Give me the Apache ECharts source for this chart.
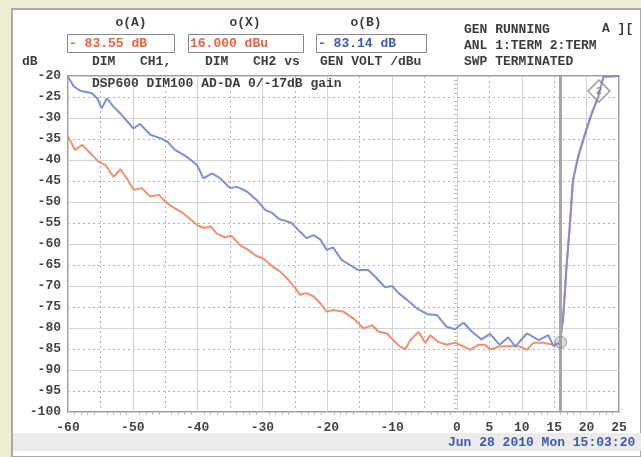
<!DOCTYPE html>
<html><head><meta charset="utf-8">
<script src="https://cdn.jsdelivr.net/npm/echarts@6/dist/echarts.min.js"></script>
<style>html,body{margin:0;padding:0;background:#EEEDD3}#c{width:641px;height:457px}</style>
</head><body><div id="c"></div>
<script>
// X-axis ticks (dBu) and tick labels
const xTickLabels = [-60, -50, -40, -30, -20, -10, 0, 5, 10, 15, 20, 25];
const yTickLabels = [-20, -25, -30, -35, -40, -45, -50, -55, -60, -65, -70, -75, -80, -85, -90, -95, -100];

// CH1 (blue)
const blueX = [-60, -59.1, -58.1, -56.3, -55.5, -54.8, -54, -53, -51.7, -49.9, -48.9, -47.3, -45.8, -44.7, -43.5, -41.7, -40.1, -39.1, -37.8, -36.5, -35, -33.9, -32.4, -30.9, -29.6, -28.5, -27.5, -26.5, -25.5, -24.2, -23.2, -22.1, -21.1, -20.1, -19.1, -17.8, -16.5, -15.2, -13.7, -12.6, -11.1, -10, -9, -7.7, -6.2, -4.6, -3.1, -1.6, -0.3, 1, 2.3, 3.8, 5.1, 6.6, 7.9, 9, 10.8, 12.6, 14.1, 14.9, 15.9, 16.4, 16.9, 17.4, 17.9, 18.7, 19.8, 20.8, 21.8, 22.6, 25];
const blueY = [-20.2, -22.5, -23.5, -24.1, -25.3, -27.7, -25.3, -27.3, -29.3, -32.5, -31.4, -34, -34.8, -35.6, -37.6, -39.2, -41.2, -44.4, -43.2, -44.4, -46.7, -46.4, -47.5, -49.5, -51.9, -52.6, -54.0, -54.5, -55.0, -57.1, -58.6, -57.9, -58.9, -61.4, -60.8, -63.8, -65, -66.2, -66.2, -67.8, -70.3, -70, -71.7, -73.3, -75.3, -76.7, -76.9, -79.7, -80.3, -78.7, -80.9, -82.7, -81.4, -84, -82.2, -84.4, -81.3, -82.9, -81.7, -84.3, -83.4, -77.3, -65.4, -55.9, -44.8, -39.2, -33.6, -28.9, -24.9, -20.2, -20];

// CH2 (orange)
const orangeX = [-60, -58.9, -57.8, -56.3, -55.3, -54.2, -53, -51.9, -50.9, -49.9, -48.6, -47.3, -46, -44.7, -43.5, -42.3, -41.2, -40, -39, -38, -37, -35.8, -34.8, -33.5, -32.2, -31, -29.8, -28.6, -27.4, -26.2, -25, -24.2, -23.2, -22.1, -21.1, -20.1, -19.1, -17.5, -16, -14.4, -13.1, -12.1, -10.8, -9.8, -8.8, -8, -7.2, -5.9, -4.9, -4.1, -2.9, -1.6, -0.3, 1, 2, 3.3, 4.3, 5.1, 6.6, 8.2, 9.7, 10.8, 11.8, 13.3, 14.9, 15.9, 16.4, 16.9, 17.4, 17.9, 18.7, 19.8, 20.8, 21.8, 22.6, 25];
const orangeY = [-34.4, -37.6, -36.4, -38.8, -40.4, -41.2, -44, -42.2, -44.4, -47.1, -46.7, -48.7, -48.3, -50.3, -51.5, -52.6, -54, -55.6, -56.2, -55.8, -57.6, -58.4, -58.0, -60.2, -61.4, -62.8, -63.5, -65.2, -66.4, -68.2, -70.4, -72.1, -71.7, -72.5, -74.1, -76.1, -75.7, -76.1, -77.7, -80.1, -79.3, -80.9, -81.3, -82.9, -84.4, -85.1, -82.9, -80.9, -83.6, -81.7, -83.3, -84, -83.5, -84.4, -85.2, -84, -84, -85.1, -84.4, -84.3, -84.4, -85.2, -83.5, -83.5, -84, -83.6, -77.3, -65.4, -55.9, -44.8, -39.2, -33.6, -28.9, -24.9, -20.2, -20];

// cursors
const cursor1 = [16, -83.4];
const cursor2 = [21.9, -23.6];

const chart = echarts.init(document.getElementById('c'));
const F = "'Liberation Mono', 'DejaVu Sans Mono', monospace";
const txt = (x, y, s, color, align) => ({
  type: 'text', left: undefined, x: x, y: y, z: 10,
  style: { text: s, x: 0, y: 0, fill: color || '#3c3c3c', font: 'bold 13px ' + F, textAlign: align || 'left', textVerticalAlign: 'middle' }
});
const box = (x1, x2, color, s) => ([
  { type: 'rect', z: 5, shape: { x: x1 + 0.5, y: 34.5, width: x2 - x1, height: 18 }, style: { fill: '#fff', stroke: '#8a8a8a', lineWidth: 1 } },
  { type: 'text', z: 10, x: x1 + 2, y: 44, style: { text: s, fill: color, font: 'bold 13px ' + F, textVerticalAlign: 'middle' } }
]);
const pairs = (xs, ys) => xs.map((v, i) => [v, ys[i]]);

chart.setOption({
  backgroundColor: '#EEEDD3',
  animation: false,
  grid: { left: 68, right: 22, top: 76, bottom: 45, show: true, borderColor: '#9c9c9c', borderWidth: 2, backgroundColor: '#fff' },
  xAxis: [
    { type: 'value', min: -60, max: 25, interval: 5,
      axisLine: { show: false }, axisTick: { show: false },
      minorTick: { show: true, splitNumber: 5, length: 3, lineStyle: { color: '#bbb' } },
      axisLabel: { margin: 9, color: '#444', fontFamily: F, fontWeight: 'bold', fontSize: 13,
        formatter: v => (v < 0 && v % 10 !== 0) ? '' : String(v) },
      splitLine: { show: true, lineStyle: { color: '#b4b4b4', type: [2, 3], width: 1 } } },
    { type: 'value', min: -60, max: 25, interval: 10, show: true, position: 'bottom',
      axisLine: { show: false }, axisTick: { show: false }, axisLabel: { show: false },
      splitLine: { show: true, lineStyle: { color: '#d2d2d2', type: 'solid', width: 1 } } }
  ],
  yAxis: [
    { type: 'value', min: -100, max: -20, interval: 5,
      axisLine: { show: false }, axisTick: { show: false },
      minorTick: { show: true, splitNumber: 5, length: 3, lineStyle: { color: '#bbb' } },
      axisLabel: { margin: 7, color: '#444', fontFamily: F, fontWeight: 'bold', fontSize: 13 },
      splitLine: { show: true, lineStyle: { color: '#b4b4b4', type: [2, 3], width: 1 } } },
    { type: 'value', min: -100, max: -20, interval: 10, position: 'left',
      axisLine: { show: false }, axisTick: { show: false }, axisLabel: { show: false },
      splitLine: { show: true, lineStyle: { color: '#d2d2d2', type: 'solid', width: 1 } } }
  ],
  series: [
    { type: 'line', name: 'CH2', data: pairs(orangeX, orangeY), showSymbol: false, z: 3,
      lineStyle: { color: '#F29070', width: 2 },
      markLine: { silent: true, symbol: 'none', label: { show: false },
        lineStyle: { color: '#a6a6a6', width: 3, type: 'solid' }, data: [{ xAxis: cursor1[0] }] } },
    { type: 'line', name: 'CH1', data: pairs(blueX, blueY), showSymbol: false, z: 4,
      lineStyle: { color: '#8090D4', width: 2 } },
    { type: 'scatter', data: [cursor1], symbol: 'circle', symbolSize: 12, z: 6,
      itemStyle: { color: 'rgba(150,150,150,0.45)', borderColor: '#888', borderWidth: 1 } },
    { type: 'scatter', data: [cursor2], symbol: 'diamond', symbolSize: [22, 22], z: 6,
      itemStyle: { color: 'rgba(255,255,255,0.2)', borderColor: '#8a8a8a', borderWidth: 1.5 },
      label: { show: true, position: 'inside', formatter: '2', color: '#777', fontSize: 10, fontFamily: F, fontWeight: 'bold' } }
  ],
  graphic: [
    { type: 'rect', z: -10, silent: true, shape: { x: 12, y: 9, width: 629, height: 448 }, style: { fill: '#ffffff', stroke: '#a9a9a9', lineWidth: 2 } },
    { type: 'rect', z: -9, silent: true, shape: { x: 13, y: 433, width: 628, height: 18 }, style: { fill: '#EBEBEB' } },
    txt(131, 23, 'o(A)', '#3c3c3c', 'center'),
    txt(245, 23, 'o(X)', '#3c3c3c', 'center'),
    txt(366, 23, 'o(B)', '#3c3c3c', 'center'),
    ...box(67, 174, '#F0603A', '- 83.55 dB'),
    ...box(188, 303, '#F0603A', '16.000 dBu'),
    ...box(316, 426, '#3A5BC0', '- 83.14 dB'),
    txt(22, 62, 'dB'),
    txt(92, 62, 'DIM'),
    txt(140, 62, 'CH1,'),
    txt(205, 62, 'DIM'),
    txt(253, 62, 'CH2 vs'),
    txt(320, 62, 'GEN VOLT /dBu'),
    txt(464, 30, 'GEN RUNNING'),
    txt(464, 46, 'ANL 1:TERM 2:TERM'),
    txt(464, 62, 'SWP TERMINATED'),
    txt(602, 29, 'A ]['),
    txt(92, 84, 'DSP600 DIM100 AD-DA 0/-17dB gain'),
    txt(448, 443, 'Jun 28 2010 Mon 15:03:20', '#3A5BB0')
  ]
});
</script></body></html>
